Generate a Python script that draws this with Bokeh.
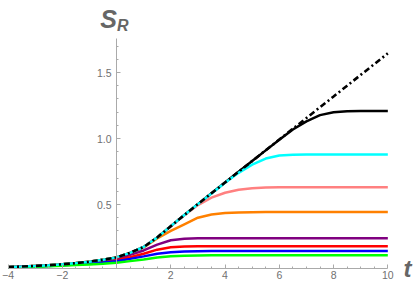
from bokeh.plotting import figure
from bokeh.models import FixedTicker, Label
from bokeh.embed import file_html
from bokeh.resources import INLINE

# ---- data ----
t = [-4, -3.5, -3, -2.5, -2, -1.5, -1, -0.5, 0, 0.5, 1, 1.5, 2, 2.5, 3, 3.5, 4,
     4.5, 5, 5.5, 6, 6.5, 7, 7.5, 8, 8.5, 9, 9.5, 10]

envelope = [0.026, 0.030, 0.035, 0.040, 0.047, 0.056, 0.067, 0.081, 0.099, 0.134,
            0.178, 0.250, 0.336, 0.420, 0.503, 0.585, 0.666, 0.748, 0.829, 0.911,
            0.992, 1.074, 1.155, 1.237, 1.318, 1.400, 1.482, 1.563, 1.645]

s_black = [0.026, 0.030, 0.035, 0.040, 0.047, 0.056, 0.067, 0.081, 0.099, 0.134,
           0.178, 0.250, 0.336, 0.420, 0.503, 0.585, 0.666, 0.748, 0.829, 0.910,
           0.990, 1.068, 1.130, 1.177, 1.199, 1.207, 1.209, 1.209, 1.209]

s_cyan = [0.026, 0.030, 0.035, 0.040, 0.047, 0.056, 0.067, 0.081, 0.099, 0.134,
          0.178, 0.250, 0.336, 0.420, 0.503, 0.584, 0.665, 0.740, 0.802, 0.848,
          0.871, 0.877, 0.879, 0.879, 0.879, 0.879, 0.879, 0.879, 0.879]

s_pink = [0.026, 0.030, 0.035, 0.040, 0.047, 0.056, 0.067, 0.081, 0.099, 0.134,
          0.178, 0.250, 0.335, 0.418, 0.496, 0.552, 0.589, 0.612, 0.623, 0.628,
          0.630, 0.631, 0.631, 0.631, 0.631, 0.631, 0.631, 0.631, 0.631]

s_orange = [0.026, 0.030, 0.035, 0.040, 0.047, 0.056, 0.067, 0.081, 0.098, 0.132,
            0.175, 0.243, 0.300, 0.350, 0.400, 0.424, 0.435, 0.440, 0.442, 0.443,
            0.443, 0.443, 0.443, 0.443, 0.443, 0.443, 0.443, 0.443, 0.443]

s_purple = [0.025, 0.029, 0.033, 0.038, 0.044, 0.052, 0.062, 0.073, 0.088, 0.118,
            0.152, 0.196, 0.229, 0.241, 0.244, 0.245, 0.245, 0.245, 0.245, 0.245,
            0.245, 0.245, 0.245, 0.245, 0.245, 0.245, 0.245, 0.245, 0.245]

s_red = [0.024, 0.028, 0.032, 0.037, 0.042, 0.049, 0.057, 0.066, 0.078, 0.101,
         0.127, 0.158, 0.176, 0.182, 0.184, 0.184, 0.184, 0.184, 0.184, 0.184,
         0.184, 0.184, 0.184, 0.184, 0.184, 0.184, 0.184, 0.184, 0.184]

s_blue = [0.023, 0.027, 0.031, 0.035, 0.040, 0.046, 0.053, 0.061, 0.070, 0.088,
          0.107, 0.127, 0.139, 0.144, 0.146, 0.147, 0.148, 0.148, 0.148, 0.148,
          0.148, 0.148, 0.148, 0.148, 0.148, 0.148, 0.148, 0.148, 0.148]

s_green = [0.022, 0.025, 0.028, 0.032, 0.036, 0.041, 0.046, 0.051, 0.058, 0.071,
           0.084, 0.098, 0.108, 0.112, 0.114, 0.115, 0.115, 0.115, 0.115, 0.115,
           0.115, 0.115, 0.115, 0.115, 0.115, 0.115, 0.115, 0.115, 0.115]

x_ticks = [-4, -2, 2, 4, 6, 8, 10]
x_tick_labels = ["−4", "−2", "2", "4", "6", "8", "10"]
y_ticks = [0.5, 1.0, 1.5]
y_tick_labels = ["0.5", "1.0", "1.5"]
x_minor = [-3.5, -3, -2.5, -1.5, -1, -0.5, 0.5, 1, 1.5, 2.5, 3, 3.5, 4.5, 5, 5.5,
           6.5, 7, 7.5, 8.5, 9, 9.5]
y_minor = [0.1, 0.2, 0.3, 0.4, 0.6, 0.7, 0.8, 0.9, 1.1, 1.2, 1.3, 1.4, 1.6, 1.7]

# ---- figure ----
p = figure(width=415, height=289, x_range=(-4.2765, 11.02), y_range=(-0.1439, 2.0455),
           output_backend="svg", toolbar_location=None, min_border=0)
p.outline_line_color = None
p.xgrid.visible = False
p.ygrid.visible = False

xa = p.xaxis[0]
ya = p.yaxis[0]
xa.fixed_location = 0.0175
ya.fixed_location = 0
xa.bounds = (-4, 10)
ya.bounds = (0.0175, 1.76)
xa.ticker = FixedTicker(ticks=x_ticks, minor_ticks=x_minor)
ya.ticker = FixedTicker(ticks=y_ticks, minor_ticks=y_minor)
xa.major_label_overrides = dict(zip(x_ticks, x_tick_labels))
ya.major_label_overrides = dict(zip(y_ticks, y_tick_labels))
for ax in (xa, ya):
    ax.axis_line_color = "#aaaaaa"
    ax.axis_line_width = 1
    ax.major_tick_line_color = "#aaaaaa"
    ax.minor_tick_line_color = "#aaaaaa"
    ax.major_tick_in = 4
    ax.major_tick_out = 0
    ax.minor_tick_in = 2
    ax.minor_tick_out = 0
    ax.major_label_text_font = "Liberation Sans"
    ax.major_label_text_font_size = "10.5px"
    ax.major_label_text_color = "#707070"
xa.major_label_standoff = 3
ya.major_label_standoff = 5

lw = 2.5
p.line(t, s_black, line_color="black", line_width=lw)
p.line(t, s_pink, line_color="#ff8080", line_width=lw)
p.line(t, s_orange, line_color="#ff8000", line_width=lw)
p.line(t, s_purple, line_color="#800080", line_width=lw)
p.line(t, s_red, line_color="#ff0000", line_width=lw)
p.line(t, s_blue, line_color="#0000ff", line_width=lw)
p.line(t, s_green, line_color="#00ff00", line_width=lw)
p.line(t, s_cyan, line_color="#00ffff", line_width=lw)
p.line(t, envelope, line_color="black", line_width=2.6, line_dash="6 3 2 3")

lab_color = "#666666"
p.add_layout(Label(x=-0.60, y=1.909, text="S", text_font="Liberation Sans",
                   text_font_size="25px", text_font_style="bold italic",
                   text_color=lab_color, text_baseline="alphabetic"))
p.add_layout(Label(x=0.015, y=1.858, text="R", text_font="Liberation Sans",
                   text_font_size="16px", text_font_style="bold italic",
                   text_color=lab_color, text_baseline="alphabetic"))
p.add_layout(Label(x=10.58, y=0.015, text="t", text_font="Liberation Sans",
                   text_font_size="24px", text_font_style="bold italic",
                   text_color=lab_color, text_baseline="alphabetic"))

open("out.html", "w").write(file_html(p, INLINE))
